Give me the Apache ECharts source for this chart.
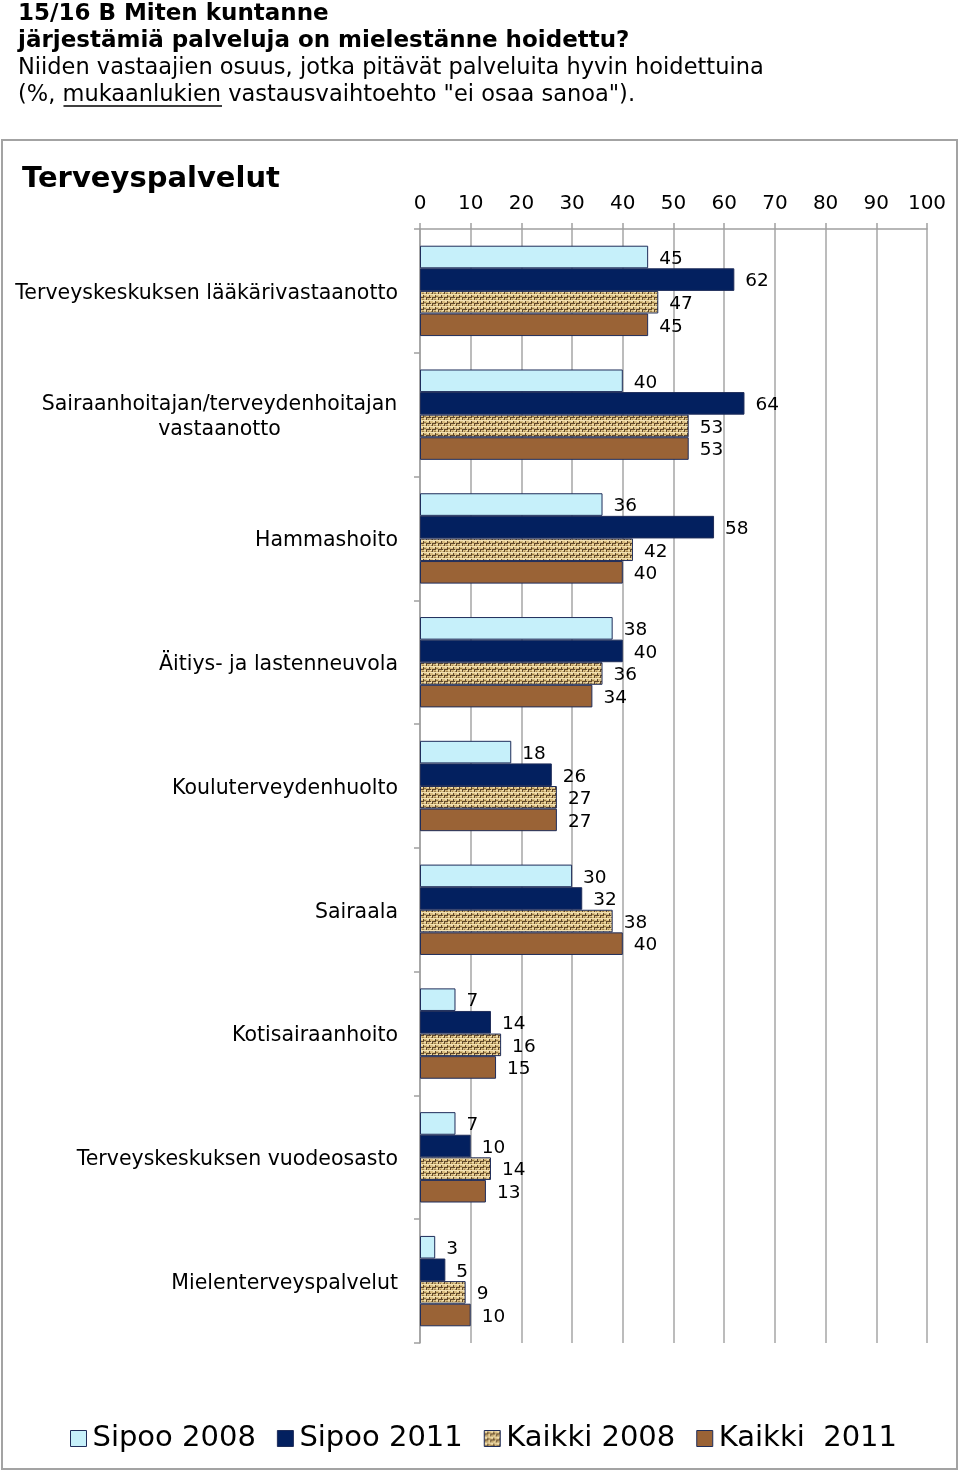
<!DOCTYPE html>
<html><head><meta charset="utf-8">
<script src="https://cdn.jsdelivr.net/npm/echarts@6/dist/echarts.min.js"></script>
<style>html,body{margin:0;padding:0;background:#fff}#c{width:960px;height:1473px}</style>
</head><body><div id="c"></div>
<script>
const categories = [
  'Terveyskeskuksen lääkärivastaanotto',
  'Sairaanhoitajan/terveydenhoitajan\nvastaanotto',
  'Hammashoito',
  'Äitiys- ja lastenneuvola',
  'Kouluterveydenhuolto',
  'Sairaala',
  'Kotisairaanhoito',
  'Terveyskeskuksen vuodeosasto',
  'Mielenterveyspalvelut'
];
const seriesNames = ['Sipoo 2008', 'Sipoo 2011', 'Kaikki 2008', 'Kaikki  2011'];
const sipoo2008 = [45, 40, 36, 38, 18, 30, 7, 7, 3];
const sipoo2011 = [62, 64, 58, 40, 26, 32, 14, 10, 5];
const kaikki2008 = [47, 53, 42, 36, 27, 38, 16, 14, 9];
const kaikki2011 = [45, 53, 40, 34, 27, 40, 15, 13, 10];
const xTicks = [0, 10, 20, 30, 40, 50, 60, 70, 80, 90, 100];

const FONT = '"DejaVu Sans", Verdana, sans-serif';

// burlap-like woven pattern for Kaikki 2008
const pc = document.createElement('canvas');
pc.width = 12; pc.height = 6;
const g = pc.getContext('2d');
g.fillStyle = '#D8BC80'; g.fillRect(0, 0, 12, 6);
g.fillStyle = '#F2E0B0';
g.fillRect(0, 0, 12, 1); g.fillRect(1, 1, 3, 1); g.fillRect(7, 1, 3, 1);
g.fillRect(4, 4, 3, 1); g.fillRect(10, 4, 2, 1);
g.fillStyle = '#5F472A';
g.fillRect(0, 3, 4, 1); g.fillRect(6, 3, 5, 1);
g.fillRect(3, 1, 1, 2); g.fillRect(9, 1, 1, 2);
g.fillRect(0, 4, 1, 2); g.fillRect(6, 4, 1, 2);
g.fillStyle = '#A0834B';
g.fillRect(4, 2, 2, 1); g.fillRect(11, 5, 1, 1); g.fillRect(2, 5, 2, 1); g.fillRect(8, 5, 1, 1);
const pattern = { image: pc, repeat: 'repeat' };

const colors = ['#C6F0FA', '#03205F', pattern, '#9A6336'];
const datas = [sipoo2008, sipoo2011, kaikki2008, kaikki2011];

// measurements
const mc = document.createElement('canvas').getContext('2d');
mc.font = '22.5px ' + FONT;
const preW = mc.measureText('(%, ').width;
const ulW = mc.measureText('mukaanlukien').width;
mc.font = '20.5px ' + FONT;
const twoLineW = Math.ceil(mc.measureText('Sairaanhoitajan/terveydenhoitajan').width) + 1;

const chart = echarts.init(document.getElementById('c'), null, { renderer: 'canvas' });
chart.setOption({
  animation: false,
  textStyle: { fontFamily: FONT },
  graphic: [
    { type: 'rect', shape: { x: 2, y: 140, width: 955, height: 1329 }, style: { fill: 'none', stroke: '#A3A3A3', lineWidth: 2 }, z: 0 },
    { type: 'text', left: 18, top: 3, style: { text: '15/16 B Miten kuntanne', font: 'bold 23px ' + FONT, fill: '#000' } },
    { type: 'text', left: 18, top: 30, style: { text: 'järjestämiä palveluja on mielestänne hoidettu?', font: 'bold 23px ' + FONT, fill: '#000' } },
    { type: 'text', left: 18, top: 57, style: { text: 'Niiden vastaajien osuus, jotka pitävät palveluita hyvin hoidettuina', font: '22.5px ' + FONT, fill: '#000' } },
    { type: 'text', left: 18, top: 84, style: { text: '(%, mukaanlukien vastausvaihtoehto "ei osaa sanoa").', font: '22.5px ' + FONT, fill: '#000' } },
    { type: 'line', shape: { x1: 19 + preW, y1: 106, x2: 19 + preW + ulW, y2: 106 }, style: { stroke: '#000', lineWidth: 1.5 } },
    { type: 'text', left: 22, top: 165, style: { text: 'Terveyspalvelut', font: 'bold 29px ' + FONT, fill: '#000' } }
  ],
  grid: { left: 420, right: 33, top: 229, bottom: 130, containLabel: false },
  legend: {
    data: seriesNames,
    bottom: 15,
    left: 65,
    icon: 'rect',
    itemWidth: 16, itemHeight: 16,
    itemGap: 21,
    textStyle: { fontSize: 29, color: '#000', fontFamily: FONT, padding: [0, 0, 0, 1] },
    itemStyle: { borderColor: '#1F2D5A', borderWidth: 1 }
  },
  xAxis: {
    type: 'value', position: 'top', min: 0, max: 100, interval: 10,
    axisLine: { show: true, lineStyle: { color: '#A0A0A0', width: 1.5 } },
    axisTick: { show: true, length: 6, lineStyle: { color: '#A0A0A0', width: 1.5 } },
    axisLabel: { fontSize: 20, color: '#000', margin: 15, formatter: v => xTicks.includes(v) ? String(v) : '' },
    splitLine: { show: true, lineStyle: { color: '#A6A6A6', width: 1.5 } }
  },
  yAxis: {
    type: 'category', inverse: true, data: categories,
    axisLine: { show: true, lineStyle: { color: '#A0A0A0', width: 1.5 } },
    axisTick: { show: true, length: 6, lineStyle: { color: '#A0A0A0', width: 1.5 } },
    axisLabel: {
      fontSize: 20.5, color: '#000', margin: 22, lineHeight: 25, padding: [5, 0, 0, 0],
      formatter: v => v.indexOf('\n') >= 0 ? v.split('\n').map(s => '{c|' + s + '}').join('\n') : v,
      rich: { c: { fontSize: 20.5, width: twoLineW, align: 'center', lineHeight: 25, fontFamily: FONT } }
    }
  },
  series: datas.map((d, i) => ({
    name: seriesNames[i],
    type: 'bar',
    data: d,
    barGap: '0%',
    barCategoryGap: '27%',
    itemStyle: { color: colors[i], borderColor: '#1F2D5A', borderWidth: 1 },
    label: { show: true, position: 'right', distance: 11, offset: [0, 2], fontSize: 18.5, color: '#000', fontFamily: FONT }
  }))
});
</script></body></html>
